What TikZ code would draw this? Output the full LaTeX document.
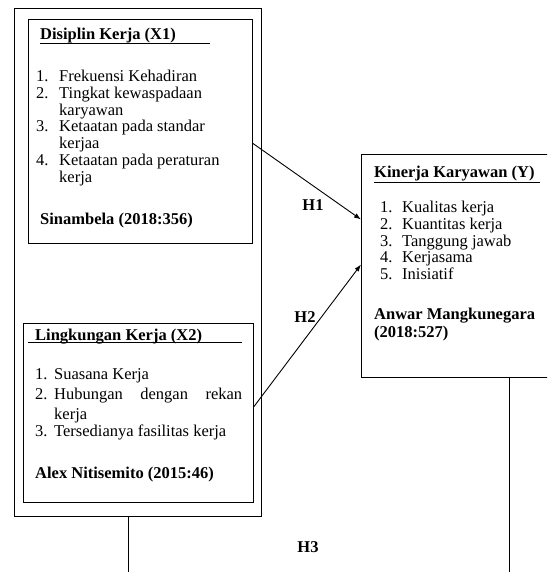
\documentclass[tikz,border=0pt]{standalone}
\usepackage{fontspec}
\setmainfont{Liberation Serif}
\usetikzlibrary{arrows.meta, positioning, calc}
\newcommand{\diagfont}{\fontsize{16.5}{16.8}\selectfont}
\tikzset{
    frame/.style={
        draw,
        line width=1pt,
        anchor=north west,
        inner sep=0pt
    },
    title/.style={font=\diagfont\bfseries, anchor=base west, inner sep=0pt},
    items/.style={font=\diagfont, anchor=base west, inner sep=0pt},
    source/.style={font=\diagfont\bfseries, anchor=base west, inner sep=0pt},
    hyp/.style={font=\diagfont\bfseries, inner sep=0pt},
    line/.style={-{Latex[length=7pt,width=5pt]}, line width=0.9pt},
    rule/.style={line width=0.9pt}
}

\begin{document}
\begin{tikzpicture}[x=1pt, y=-1pt]
\useasboundingbox (0,0) rectangle (547,572);
\clip (0,0) rectangle (547,572);

% frames
\node[frame, minimum width=247pt, minimum height=508pt] (outer) at (14,8) {};
\node[frame, minimum width=224pt, minimum height=224pt] (x1box) at (28,19) {};
\node[frame, minimum width=230pt, minimum height=179pt] (x2box) at (23,323) {};
\node[frame, minimum width=200pt, minimum height=223pt] (ybox) at (361,154) {};

% X1
\node[title] (x1title) at (40,40) {Disiplin Kerja (X1)};
\draw[rule] ([yshift=-3pt]x1title.base west) -- ++(170,0);
\node[items] (x1list) at (36,81.5) {\begin{tabular}[t]{@{}p{23pt}@{}l@{}}
1. & Frekuensi Kehadiran\\
2. & Tingkat kewaspadaan\\
   & karyawan\\
3. & Ketaatan pada standar\\
   & kerjaa\\
4. & Ketaatan pada peraturan\\
   & kerja
\end{tabular}};
\node[source] (x1src) at (40,224.5) {Sinambela (2018:356)};

% X2
\node[title] (x2title) at (35,340) {Lingkungan Kerja (X2)};
\draw[rule] ([xshift=-7pt,yshift=-2.5pt]x2title.base west) -- ++(214,0);
\node[items] (x2list) at (35,379) {\begin{tabular}[t]{@{}p{19pt}@{}l@{}}
1. & Suasana Kerja\\[4pt]
2. & \makebox[188pt][s]{Hubungan dengan rekan}\\[3pt]
   & kerja\\
3. & Tersedianya fasilitas kerja
\end{tabular}};
\node[source] (x2src) at (35,478) {Alex Nitisemito (2015:46)};

% Y
\node[title] (ytitle) at (374,178) {Kinerja Karyawan (Y)};
\draw[rule] ([yshift=-4pt]ytitle.base west) -- ++(166,0);
\node[items] (ylist) at (380,212.5) {\begin{tabular}[t]{@{}p{22pt}@{}l@{}}
1. & Kualitas kerja\\
2. & Kuantitas kerja\\
3. & Tanggung jawab\\
4. & Kerjasama\\
5. & Inisiatif
\end{tabular}};
\node[source] (ysrc) at (374,319.5) {\begin{tabular}[t]{@{}l@{}}
Anwar Mangkunegara\\[1pt]
(2018:527)
\end{tabular}};

% hypotheses
\draw[line] ([yshift=-12pt]x1box.east) -- ([yshift=46.5pt]ybox.west);
\draw[line] ([yshift=6.5pt]x2box.east) -- ([yshift=1.5pt]ybox.west);
\node[hyp] (h1) at (313,205) {H1};
\node[hyp] (h2) at (305,317.5) {H2};
\node[hyp] (h3) at (308,547) {H3};

\coordinate (end1) at (128,572);
\coordinate (end2) at (509,572);
\draw[rule] (outer.south -| end1) -- (end1);
\draw[rule] (ybox.south -| end2) -- (end2);

\end{tikzpicture}
\end{document}
